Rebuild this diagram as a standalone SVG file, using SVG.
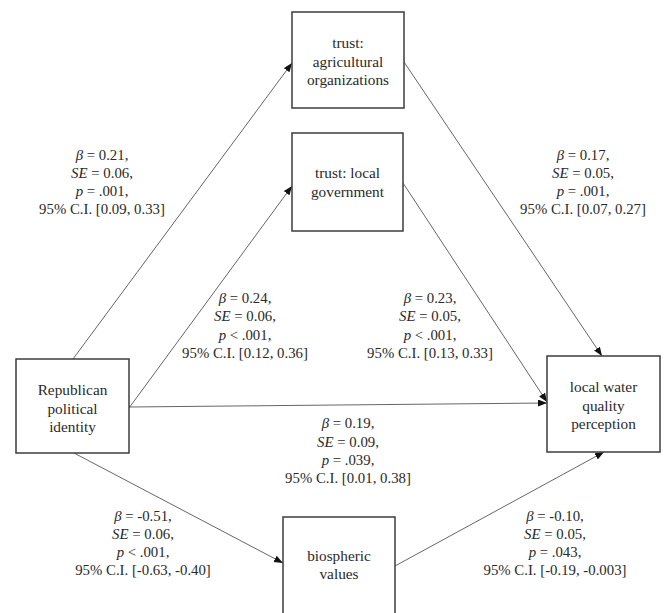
<svg xmlns="http://www.w3.org/2000/svg" width="665" height="613" viewBox="0 0 665 613">
<defs>
<marker id="arr" markerUnits="userSpaceOnUse" markerWidth="10" markerHeight="8" refX="9" refY="3.5" orient="auto">
<path d="M0,0 L9,3.5 L0,7 z" fill="#111"/>
</marker>
<style>
.box{fill:#fff;stroke:#3c3c3c;stroke-width:1.5}
.bt{font-size:15.3px;fill:#2a2a2a;text-anchor:middle}
.lb{font-size:14.8px;fill:#2a2a2a;text-anchor:middle}
.i{font-style:italic}
.ln{stroke:#555;stroke-width:0.9;fill:none;marker-end:url(#arr)}
</style>
</defs>
<rect width="665" height="613" fill="#fff"/>
<g id="connectors">
<line class="ln" x1="73" y1="359" x2="292" y2="63"/>
<line class="ln" x1="129" y1="408" x2="292" y2="186"/>
<line class="ln" x1="129" y1="407" x2="547" y2="403"/>
<line class="ln" x1="403" y1="183" x2="547" y2="402"/>
<line class="ln" x1="404" y1="62" x2="602" y2="356"/>
<line class="ln" x1="74" y1="453" x2="283" y2="563"/>
<line class="ln" x1="395" y1="566" x2="604" y2="452"/>
</g>
<g font-family="'Liberation Serif', 'Times New Roman', serif">
<g id="trust-ag">
<rect class="box" x="292" y="12" width="112" height="96"/>
<text class="bt" x="348" y="48">trust:</text>
<text class="bt" x="348" y="66.5">agricultural</text>
<text class="bt" x="348" y="85">organizations</text>
</g>
<g id="trust-gov">
<rect class="box" x="292" y="133" width="111" height="98"/>
<text class="bt" x="347.5" y="178">trust: local</text>
<text class="bt" x="347.5" y="196.5">government</text>
</g>
<g id="republican">
<rect class="box" x="16" y="359" width="113" height="94"/>
<text class="bt" x="72.5" y="395">Republican</text>
<text class="bt" x="72.5" y="413.5">political</text>
<text class="bt" x="72.5" y="432">identity</text>
</g>
<g id="water">
<rect class="box" x="547" y="356" width="113" height="96"/>
<text class="bt" x="603.5" y="392">local water</text>
<text class="bt" x="603.5" y="410.5">quality</text>
<text class="bt" x="603.5" y="429">perception</text>
</g>
<g id="biospheric">
<rect class="box" x="283" y="517" width="112" height="110"/>
<text class="bt" x="339" y="560.5">biospheric</text>
<text class="bt" x="339" y="579">values</text>
</g>
<g id="labels">
<text class="lb" x="102" y="159.5"><tspan class="i">β</tspan> = 0.21,</text>
<text class="lb" x="102" y="177.8"><tspan class="i">SE</tspan> = 0.06,</text>
<text class="lb" x="102" y="196"><tspan class="i">p</tspan> = .001,</text>
<text class="lb" x="102" y="214.3">95% C.I. [0.09, 0.33]</text>

<text class="lb" x="583" y="159.5"><tspan class="i">β</tspan> = 0.17,</text>
<text class="lb" x="583" y="177.8"><tspan class="i">SE</tspan> = 0.05,</text>
<text class="lb" x="583" y="196"><tspan class="i">p</tspan> = .001,</text>
<text class="lb" x="583" y="214.3">95% C.I. [0.07, 0.27]</text>

<text class="lb" x="245" y="303"><tspan class="i">β</tspan> = 0.24,</text>
<text class="lb" x="245" y="321.3"><tspan class="i">SE</tspan> = 0.06,</text>
<text class="lb" x="245" y="339.6"><tspan class="i">p</tspan> &lt; .001,</text>
<text class="lb" x="245" y="358">95% C.I. [0.12, 0.36]</text>

<text class="lb" x="430" y="303"><tspan class="i">β</tspan> = 0.23,</text>
<text class="lb" x="430" y="321.3"><tspan class="i">SE</tspan> = 0.05,</text>
<text class="lb" x="430" y="339.6"><tspan class="i">p</tspan> &lt; .001,</text>
<text class="lb" x="430" y="358">95% C.I. [0.13, 0.33]</text>

<text class="lb" x="348" y="428.3"><tspan class="i">β</tspan> = 0.19,</text>
<text class="lb" x="348" y="446.6"><tspan class="i">SE</tspan> = 0.09,</text>
<text class="lb" x="348" y="465"><tspan class="i">p</tspan> = .039,</text>
<text class="lb" x="348" y="483.3">95% C.I. [0.01, 0.38]</text>

<text class="lb" x="143" y="520.5"><tspan class="i">β</tspan> = -0.51,</text>
<text class="lb" x="143" y="538.8"><tspan class="i">SE</tspan> = 0.06,</text>
<text class="lb" x="143" y="557"><tspan class="i">p</tspan> &lt; .001,</text>
<text class="lb" x="143" y="575.3">95% C.I. [-0.63, -0.40]</text>

<text class="lb" x="555" y="520.5"><tspan class="i">β</tspan> = -0.10,</text>
<text class="lb" x="555" y="538.8"><tspan class="i">SE</tspan> = 0.05,</text>
<text class="lb" x="555" y="557"><tspan class="i">p</tspan> = .043,</text>
<text class="lb" x="555" y="575.3">95% C.I. [-0.19, -0.003]</text>
</g>
</g>
</svg>
